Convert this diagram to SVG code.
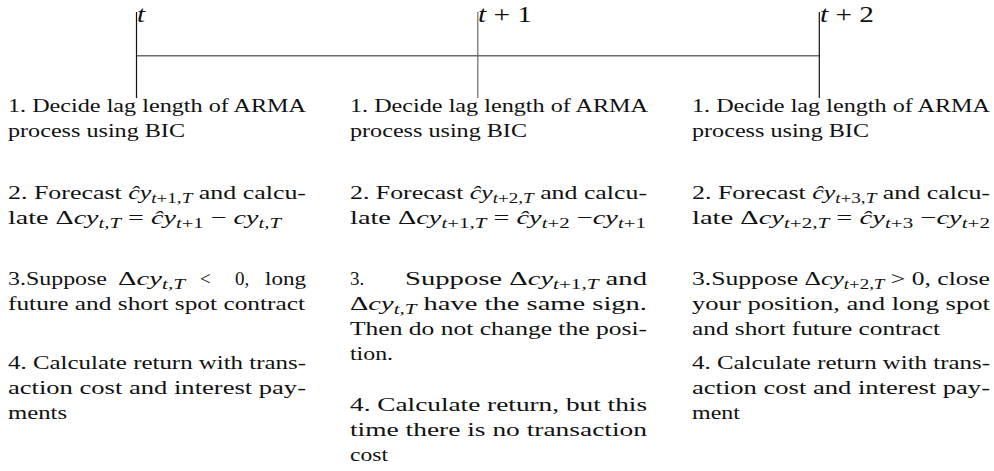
<svg xmlns="http://www.w3.org/2000/svg" width="994" height="471" viewBox="0 0 994 471">
<style>
text{font-family:"Liberation Serif","Times New Roman",serif;font-size:19px;fill:#111}
.lbl{font-size:24px}
.i{font-style:italic}
.s{font-size:14px}
.ax{stroke:#6b6b6b;stroke-width:1.4;fill:none}
.tk{stroke:#111;stroke-width:1.2;fill:none}
</style>
<rect width="994" height="471" fill="#fff"/>
<g id="timeline">
<line class="ax" x1="136.5" y1="55.7" x2="819.3" y2="55.7"/>
</g>
<g id="tick-t">
<line class="tk" x1="136.5" y1="12" x2="136.5" y2="98"/>
<text class="lbl i" x="137" y="22" textLength="8" lengthAdjust="spacingAndGlyphs">t</text>
</g>
<g id="tick-t1">
<line class="tk" x1="477.8" y1="12" x2="477.8" y2="98" style="stroke:#6b6b6b"/>
<text class="lbl" x="478" y="22" textLength="54" lengthAdjust="spacingAndGlyphs"><tspan class="i">t</tspan> + 1</text>
</g>
<g id="tick-t2">
<line class="tk" x1="819.3" y1="12" x2="819.3" y2="98"/>
<text class="lbl" x="820" y="22" textLength="54" lengthAdjust="spacingAndGlyphs"><tspan class="i">t</tspan> + 2</text>
</g>

<g id="col-t">
<text x="8" y="112" textLength="298" lengthAdjust="spacingAndGlyphs">1. Decide lag length of ARMA</text>
<text x="8" y="137" textLength="177" lengthAdjust="spacingAndGlyphs">process using BIC</text>
<text x="8" y="199" textLength="298" lengthAdjust="spacingAndGlyphs">2. Forecast <tspan class="i">ĉy</tspan><tspan class="s" dy="4"><tspan class="i">t</tspan>+1,<tspan class="i">T</tspan></tspan><tspan dy="-4"> and calcu-</tspan></text>
<text x="8" y="224" textLength="273" lengthAdjust="spacingAndGlyphs">late Δ<tspan class="i">cy</tspan><tspan class="s i" dy="4">t,T</tspan><tspan dy="-4"> = </tspan><tspan class="i">ĉy</tspan><tspan class="s" dy="4"><tspan class="i">t</tspan>+1</tspan><tspan dy="-4"> − </tspan><tspan class="i">cy</tspan><tspan class="s i" dy="4">t,T</tspan></text>
<text x="8" y="285" textLength="99" lengthAdjust="spacingAndGlyphs">3.Suppose</text>
<text x="118" y="285" textLength="67" lengthAdjust="spacingAndGlyphs">Δ<tspan class="i">cy</tspan><tspan class="s i" dy="4">t,T</tspan></text>
<text x="200" y="285">&lt;</text>
<text x="235" y="285">0,</text>
<text x="265" y="285" textLength="41" lengthAdjust="spacingAndGlyphs">long</text>
<text x="8" y="310" textLength="297" lengthAdjust="spacingAndGlyphs">future and short spot contract</text>
<text x="8" y="369" textLength="298" lengthAdjust="spacingAndGlyphs">4. Calculate return with trans-</text>
<text x="8" y="394" textLength="298" lengthAdjust="spacingAndGlyphs">action cost and interest pay-</text>
<text x="8" y="419" textLength="59" lengthAdjust="spacingAndGlyphs">ments</text>
</g>

<g id="col-t1">
<text x="350" y="112" textLength="298" lengthAdjust="spacingAndGlyphs">1. Decide lag length of ARMA</text>
<text x="350" y="137" textLength="177" lengthAdjust="spacingAndGlyphs">process using BIC</text>
<text x="350" y="199" textLength="297" lengthAdjust="spacingAndGlyphs">2. Forecast <tspan class="i">ĉy</tspan><tspan class="s" dy="4"><tspan class="i">t</tspan>+2,<tspan class="i">T</tspan></tspan><tspan dy="-4"> and calcu-</tspan></text>
<text x="350" y="224" textLength="296" lengthAdjust="spacingAndGlyphs">late Δ<tspan class="i">cy</tspan><tspan class="s" dy="4"><tspan class="i">t</tspan>+1,<tspan class="i">T</tspan></tspan><tspan dy="-4"> = </tspan><tspan class="i">ĉy</tspan><tspan class="s" dy="4"><tspan class="i">t</tspan>+2</tspan><tspan dy="-4"> −</tspan><tspan class="i">cy</tspan><tspan class="s" dy="4"><tspan class="i">t</tspan>+1</tspan></text>
<text x="350" y="285">3.</text>
<text x="405" y="285" textLength="242" lengthAdjust="spacingAndGlyphs">Suppose Δ<tspan class="i">cy</tspan><tspan class="s" dy="4"><tspan class="i">t</tspan>+1,<tspan class="i">T</tspan></tspan><tspan dy="-4">  and</tspan></text>
<text x="350" y="310" textLength="297" lengthAdjust="spacingAndGlyphs">Δ<tspan class="i">cy</tspan><tspan class="s i" dy="4">t,T</tspan><tspan dy="-4">  have  the  same  sign.</tspan></text>
<text x="350" y="335" textLength="297" lengthAdjust="spacingAndGlyphs">Then do not change the posi-</text>
<text x="350" y="360" textLength="43" lengthAdjust="spacingAndGlyphs">tion.</text>
<text x="350" y="411" textLength="297" lengthAdjust="spacingAndGlyphs">4. Calculate return, but this</text>
<text x="350" y="436" textLength="297" lengthAdjust="spacingAndGlyphs">time there is no transaction</text>
<text x="350" y="461" textLength="38" lengthAdjust="spacingAndGlyphs">cost</text>
</g>

<g id="col-t2">
<text x="692" y="112" textLength="298" lengthAdjust="spacingAndGlyphs">1. Decide lag length of ARMA</text>
<text x="692" y="137" textLength="177" lengthAdjust="spacingAndGlyphs">process using BIC</text>
<text x="692" y="199" textLength="298" lengthAdjust="spacingAndGlyphs">2. Forecast <tspan class="i">ĉy</tspan><tspan class="s" dy="4"><tspan class="i">t</tspan>+3,<tspan class="i">T</tspan></tspan><tspan dy="-4"> and calcu-</tspan></text>
<text x="692" y="224" textLength="298" lengthAdjust="spacingAndGlyphs">late Δ<tspan class="i">cy</tspan><tspan class="s" dy="4"><tspan class="i">t</tspan>+2,<tspan class="i">T</tspan></tspan><tspan dy="-4"> = </tspan><tspan class="i">ĉy</tspan><tspan class="s" dy="4"><tspan class="i">t</tspan>+3</tspan><tspan dy="-4"> −</tspan><tspan class="i">cy</tspan><tspan class="s" dy="4"><tspan class="i">t</tspan>+2</tspan></text>
<text x="692" y="285" textLength="298" lengthAdjust="spacingAndGlyphs">3.Suppose Δ<tspan class="i">cy</tspan><tspan class="s" dy="4"><tspan class="i">t</tspan>+2,<tspan class="i">T</tspan></tspan><tspan dy="-4"> &gt; 0, close</tspan></text>
<text x="692" y="310" textLength="298" lengthAdjust="spacingAndGlyphs">your  position,  and  long  spot</text>
<text x="692" y="335" textLength="248" lengthAdjust="spacingAndGlyphs">and short future contract</text>
<text x="692" y="369" textLength="298" lengthAdjust="spacingAndGlyphs">4. Calculate return with trans-</text>
<text x="692" y="394" textLength="298" lengthAdjust="spacingAndGlyphs">action  cost  and  interest  pay-</text>
<text x="692" y="419" textLength="48" lengthAdjust="spacingAndGlyphs">ment</text>
</g>
</svg>
